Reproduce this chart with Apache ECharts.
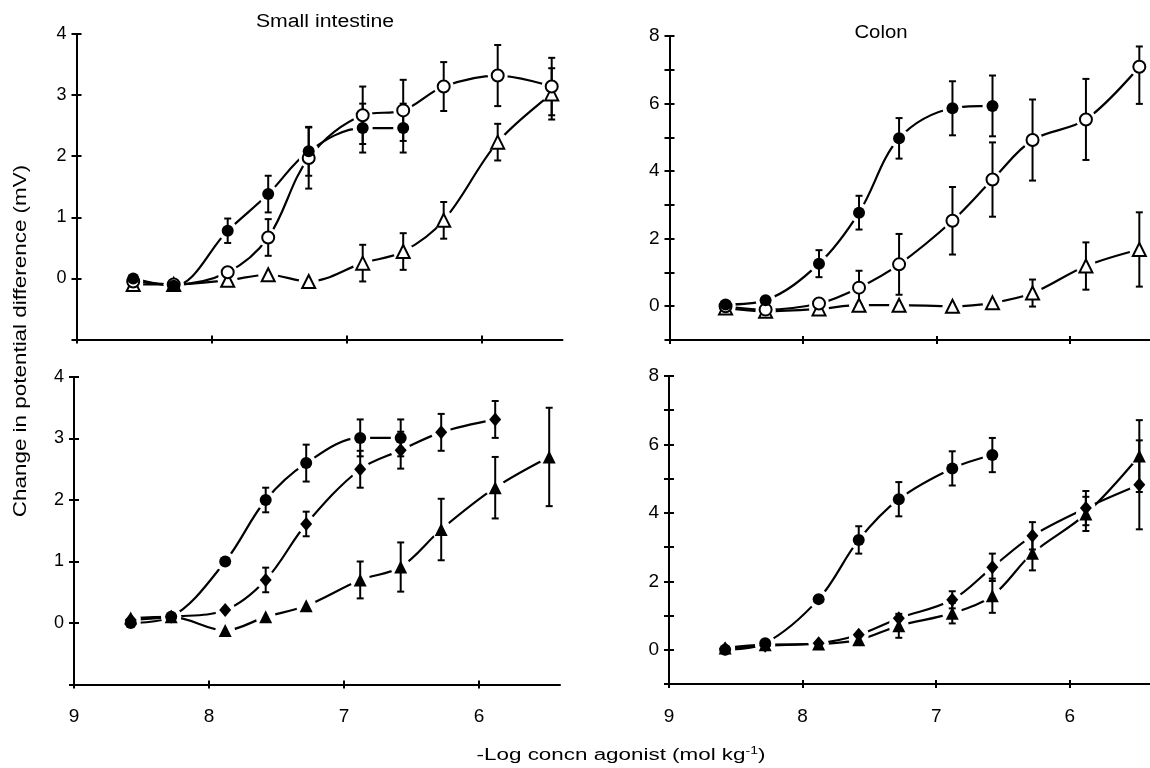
<!DOCTYPE html>
<html><head><meta charset="utf-8">
<script src="https://cdn.jsdelivr.net/npm/echarts@6/dist/echarts.min.js"></script>
<style>html,body{margin:0;padding:0;background:#fff}#c{width:1150px;height:768px}</style>
</head><body><div id="c"></div>
<script>
// ---- data ----
const logConc = [8.58, 8.28, 7.88, 7.58, 7.28, 6.88, 6.58, 6.28, 5.88, 5.48];
const xTicks = [9, 8, 7, 6];
const yLabelsSmall = [0, 1, 2, 3, 4];
const yLabelsColon = [0, 2, 4, 6, 8];

// Small intestine (top)
const siTopFilled    = [0.0, -0.12, 0.78, 1.38, 2.08, 2.46, 2.46];
const siTopFilledErr = [0, 0, 0.2, 0.3, 0.4, 0.4, 0.4];
const siTopOpen      = [-0.05, -0.1, 0.1, 0.67, 1.97, 2.67, 2.75, 3.14, 3.32, 3.14];
const siTopOpenErr   = [0, 0, 0.05, 0.3, 0.5, 0.47, 0.5, 0.4, 0.5, 0.47];
const siTopTri       = [-0.1, -0.1, -0.03, 0.06, -0.05, 0.25, 0.44, 0.95, 2.23, 3.02];
const siTopTriErr    = [0, 0, 0, 0, 0, 0.3, 0.3, 0.3, 0.3, 0.42];

// Colon (top)
const coTopFilled    = [0.05, 0.18, 1.26, 2.77, 4.97, 5.86, 5.93];
const coTopFilledErr = [0, 0, 0.4, 0.5, 0.6, 0.8, 0.9];
const coTopOpen      = [0.0, -0.1, 0.08, 0.55, 1.24, 2.53, 3.75, 4.92, 5.53, 7.09];
const coTopOpenErr   = [0, 0, 0.05, 0.5, 0.9, 1.0, 1.1, 1.2, 1.2, [1.1, 0.6]];
const coTopTri       = [-0.05, -0.15, -0.08, 0.03, 0.03, 0.0, 0.1, 0.39, 1.19, 1.68];
const coTopTriErr    = [0, 0, 0, 0, 0, 0, 0, 0.4, 0.7, 1.1];

// Small intestine (bottom)
const siBotFilled    = [0.0, 0.1, 1.0, 2.0, 2.6, 3.01, 3.01];
const siBotFilledErr = [0, 0, 0, 0.2, 0.3, 0.3, 0.3];
const siBotDiamond   = [0.05, 0.1, 0.21, 0.7, 1.61, 2.5, 2.81, 3.1, 3.31];
const siBotDiamondErr= [0, 0, 0, 0.2, 0.2, 0.3, 0.3, 0.3, 0.3];
const siBotTri       = [0.08, 0.1, -0.12, 0.1, 0.28, 0.7, 0.91, 1.52, 2.2, 2.7];
const siBotTriErr    = [0, 0, 0, 0, 0, 0.3, 0.4, 0.5, 0.5, 0.8];

// Colon (bottom)
const coBotFilled    = [0.0, 0.19, 1.48, 3.21, 4.4, 5.3, 5.69];
const coBotFilledErr = [0, 0, 0, 0.4, 0.5, 0.5, 0.5];
const coBotDiamond   = [0.03, 0.12, 0.19, 0.44, 0.92, 1.46, 2.41, 3.33, 4.14, 4.82];
const coBotDiamondErr= [0, 0, 0, 0, 0, 0.25, 0.4, 0.4, 0.5, 1.3];
const coBotTri       = [0.05, 0.15, 0.17, 0.29, 0.7, 1.07, 1.58, 2.82, 3.97, 5.66];
const coBotTriErr    = [0, 0, 0, 0, 0.35, 0.3, 0.5, 0.5, 0.5, 1.05];

// ---- layout / style ----
const FONT = '"Liberation Sans", Arial, sans-serif';
const panels = [
  {left: 76.5, top: 34, width: 486, height: 305.5, ymax: 4, labels: yLabelsSmall, yFont: 18, xLabels: false,
   curves: [
     {y: siTopTri, e: siTopTriErr, sym: 'triangle', fill: false},
     {y: siTopOpen, e: siTopOpenErr, sym: 'circle', fill: false},
     {y: siTopFilled, e: siTopFilledErr, sym: 'circle', fill: true}]},
  {left: 669.5, top: 36, width: 486, height: 304, ymax: 8, labels: yLabelsColon, yFont: 19, xLabels: false,
   curves: [
     {y: coTopTri, e: coTopTriErr, sym: 'triangle', fill: false},
     {y: coTopOpen, e: coTopOpenErr, sym: 'circle', fill: false},
     {y: coTopFilled, e: coTopFilledErr, sym: 'circle', fill: true}]},
  {left: 74, top: 377, width: 486, height: 307.5, ymax: 4, labels: yLabelsSmall, yFont: 18, xLabels: true,
   curves: [
     {y: siBotTri, e: siBotTriErr, sym: 'triangle', fill: true},
     {y: siBotDiamond, e: siBotDiamondErr, sym: 'diamond', fill: true},
     {y: siBotFilled, e: siBotFilledErr, sym: 'circle', fill: true}]},
  {left: 669, top: 376, width: 486, height: 308, ymax: 8, labels: yLabelsColon, yFont: 19, xLabels: true,
   curves: [
     {y: coBotTri, e: coBotTriErr, sym: 'triangle', fill: true},
     {y: coBotDiamond, e: coBotDiamondErr, sym: 'diamond', fill: true},
     {y: coBotFilled, e: coBotFilledErr, sym: 'circle', fill: true}]}
];

const axLine = {color: '#000', width: 2};
const grid = [], xAxis = [], yAxis = [], series = [];
panels.forEach((p, i) => {
  grid.push({left: p.left, top: p.top, width: p.width, height: p.height});
  const xBase = {gridIndex: i, type: 'value', position: 'bottom', inverse: true, min: 5.4, max: 9, splitLine: {show: false}};
  xAxis.push(Object.assign({}, xBase, {
    axisLine: {onZero: false, lineStyle: axLine},
    axisTick: {customValues: xTicks, length: 4, lineStyle: axLine},
    axisLabel: {show: p.xLabels, customValues: xTicks, margin: 23, color: '#000', fontSize: 19, fontFamily: FONT}
  }));
  xAxis.push(Object.assign({}, xBase, {
    axisLine: {show: false, onZero: false},
    axisTick: {customValues: xTicks, inside: true, length: 4, lineStyle: axLine},
    axisLabel: {show: false}
  }));
  const yBase = {gridIndex: i, type: 'value', position: 'left', min: -1, max: p.ymax, interval: 1, splitLine: {show: false}};
  yAxis.push(Object.assign({}, yBase, {
    axisLine: {onZero: false, lineStyle: axLine},
    axisTick: {length: 5, lineStyle: axLine},
    axisLabel: {customValues: p.labels, margin: 10, color: '#000', fontSize: p.yFont, fontFamily: FONT}
  }));
  yAxis.push(Object.assign({}, yBase, {
    axisLine: {show: false, onZero: false},
    axisTick: {inside: true, length: 5, lineStyle: axLine},
    axisLabel: {show: false}
  }));
  const xi = 2 * i, yi = 2 * i;
  p.curves.forEach(c => {
    const pts = c.y.map((v, k) => [logConc[k], v]);
    series.push({type: 'line', xAxisIndex: xi, yAxisIndex: yi, data: pts, smooth: 0.35,
      showSymbol: false, silent: true, z: 1, lineStyle: {color: '#000', width: 2.2}});
    series.push({type: 'scatter', xAxisIndex: xi, yAxisIndex: yi, data: pts, symbol: 'circle',
      symbolSize: 20, silent: true, z: 2, itemStyle: {color: '#fff', opacity: 1}});
    const errData = [];
    c.e.forEach((e, k) => {
      const dn = Array.isArray(e) ? e[0] : e, up = Array.isArray(e) ? e[1] : e;
      if (dn > 0 || up > 0) errData.push([logConc[k], c.y[k], c.y[k] - dn, c.y[k] + up]);
    });
    series.push({type: 'custom', xAxisIndex: xi, yAxisIndex: yi, data: errData, z: 3, silent: true,
      encode: {x: 0, y: 1},
      renderItem: (params, api) => {
        const x = api.value(0);
        const a = api.coord([x, api.value(3)]), b = api.coord([x, api.value(2)]);
        const w = 3.5, st = {stroke: '#000', lineWidth: 2};
        return {type: 'group', children: [
          {type: 'line', shape: {x1: a[0], y1: a[1], x2: b[0], y2: b[1]}, style: st},
          {type: 'line', shape: {x1: a[0] - w, y1: a[1], x2: a[0] + w, y2: a[1]}, style: st},
          {type: 'line', shape: {x1: b[0] - w, y1: b[1], x2: b[0] + w, y2: b[1]}, style: st}]};
      }});
    series.push({type: 'scatter', xAxisIndex: xi, yAxisIndex: yi, data: pts, symbol: c.sym,
      symbolSize: c.sym === 'diamond' ? [12, 14] : (c.sym === 'triangle' ? 13 : 12), silent: true, z: 4,
      itemStyle: {color: c.fill ? '#000' : '#fff', borderColor: '#000', borderWidth: c.fill ? 0 : 2, opacity: 1}});
  });
});

const chart = echarts.init(document.getElementById('c'));
chart.setOption({
  animation: false,
  backgroundColor: '#fff',
  grid, xAxis, yAxis, series,
  graphic: [
    {type: 'text', x: 325, y: 22, scaleX: 1.18, style: {text: 'Small intestine', font: '18px ' + FONT, fill: '#000', textAlign: 'center', textVerticalAlign: 'middle'}},
    {type: 'text', x: 881, y: 33, scaleX: 1.07, style: {text: 'Colon', font: '19px ' + FONT, fill: '#000', textAlign: 'center', textVerticalAlign: 'middle'}},
    {type: 'text', x: 21, y: 341, rotation: Math.PI / 2, scaleX: 1.18, style: {text: 'Change in potential difference (mV)', font: '19px ' + FONT, fill: '#000', textAlign: 'center', textVerticalAlign: 'middle'}},
    {type: 'text', x: 621, y: 756, scaleX: 1.4, style: {
      text: '{a|-Log concn agonist (mol kg}{s|-1}{a|)}', textAlign: 'center', textVerticalAlign: 'middle',
      rich: {a: {fontSize: 16, fontFamily: FONT, fill: '#000', color: '#000', lineHeight: 20},
             s: {fontSize: 10, fontFamily: FONT, fill: '#000', color: '#000', lineHeight: 9, verticalAlign: 'top'}}}}
  ]
});
</script></body></html>
